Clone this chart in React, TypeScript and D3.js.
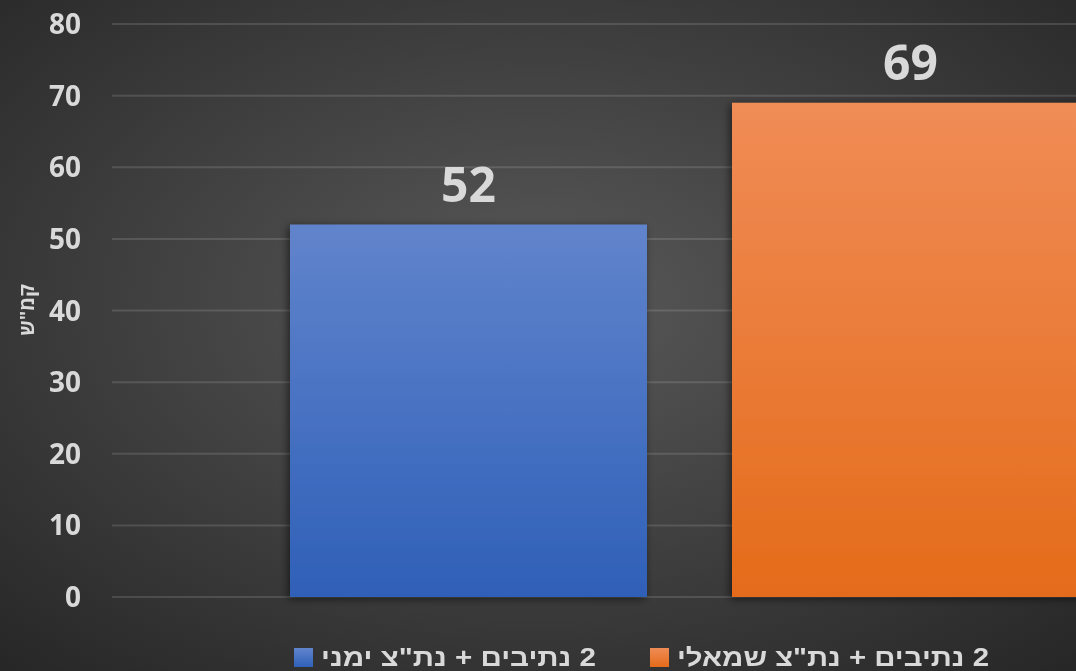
import React from "react";
import * as d3 from "d3";

const categories = ['2 נתיבים + נת"צ ימני', '2 נתיבים + נת"צ שמאלי'];
const values = [52, 69];
const yTicks = [0, 10, 20, 30, 40, 50, 60, 70, 80];
const yTitle = 'קמ"ש';

const W = 1076;
const H = 671;

export default function App() {
  const y = d3.scaleLinear().domain([0, 80]).range([597, 24]);
  const x = d3
    .scaleBand<string>()
    .domain(categories)
    .range([247.5, 247.5 + 884])
    .paddingInner(85 / 442)
    .paddingOuter(85 / 884);

  const gradIds = ["gBlue", "gOrange"];
  const legendSquareX = [294, 650];
  const legendTextX = [321, 677];
  const legendTextLen = [275, 312];

  return (
    <svg
      width={W}
      height={H}
      style={{ position: "fixed", left: 0, top: 0 }}
      fontFamily="'Open Sans', sans-serif"
    >
      <defs>
        <radialGradient id="bg" cx="50%" cy="45%" r="75%" fx="50%" fy="45%">
          <stop offset="0%" stopColor="#595959" />
          <stop offset="100%" stopColor="#262626" />
        </radialGradient>
        <linearGradient id="gBlue" x1="0" y1="0" x2="0" y2="1">
          <stop offset="0%" stopColor="#6184cc" />
          <stop offset="100%" stopColor="#2f60b8" />
        </linearGradient>
        <linearGradient id="gOrange" x1="0" y1="0" x2="0" y2="1">
          <stop offset="0%" stopColor="#f08c56" />
          <stop offset="100%" stopColor="#e46b1a" />
        </linearGradient>
        <filter id="shadow" x="-10%" y="-10%" width="120%" height="120%">
          <feDropShadow dx="-2" dy="2" stdDeviation="4" floodColor="#000" floodOpacity="0.55" />
        </filter>
      </defs>
      <rect x={0} y={0} width={W} height={H} fill="url(#bg)" />

      {yTicks.map((t) => (
        <line
          key={"g" + t}
          x1={112}
          x2={W}
          y1={y(t)}
          y2={y(t)}
          stroke="#ffffff"
          strokeOpacity={0.13}
          strokeWidth={2}
        />
      ))}

      {yTicks.map((t) => (
        <text
          key={"t" + t}
          x={81}
          y={y(t)}
          dy="0.36em"
          textAnchor="end"
          fontWeight="bold"
          fontSize={28}
          fill="#d9d9d9"
        >
          {t}
        </text>
      ))}

      <text
        transform={`translate(34,310) rotate(-90)`}
        textAnchor="middle"
        direction="rtl"
        fontWeight="bold"
        fontSize={20}
        fill="#d9d9d9"
      >
        {yTitle}
      </text>

      {categories.map((c, i) => (
        <rect
          key={"b" + i}
          x={x(c)}
          y={y(values[i])}
          width={x.bandwidth()}
          height={y(0) - y(values[i])}
          fill={`url(#${gradIds[i]})`}
          filter="url(#shadow)"
        />
      ))}

      {categories.map((c, i) => (
        <text
          key={"v" + i}
          x={(x(c) as number) + x.bandwidth() / 2}
          y={y(values[i]) - 23}
          textAnchor="middle"
          fontWeight="bold"
          fontSize={48}
          fill="#d9d9d9"
        >
          {values[i]}
        </text>
      ))}

      {categories.map((c, i) => (
        <g key={"l" + i}>
          <rect
            x={legendSquareX[i]}
            y={648}
            width={19}
            height={19}
            fill={`url(#${gradIds[i]})`}
          />
          <text
            x={legendTextX[i]}
            y={666}
            textAnchor="end"
            direction="rtl"
            fontFamily="'Liberation Sans', Arial, sans-serif"
            fontWeight="bold"
            fontSize={25}
            textLength={legendTextLen[i]}
            lengthAdjust="spacingAndGlyphs"
            fill="#d9d9d9"
          >
            {c}
          </text>
        </g>
      ))}
    </svg>
  );
}
